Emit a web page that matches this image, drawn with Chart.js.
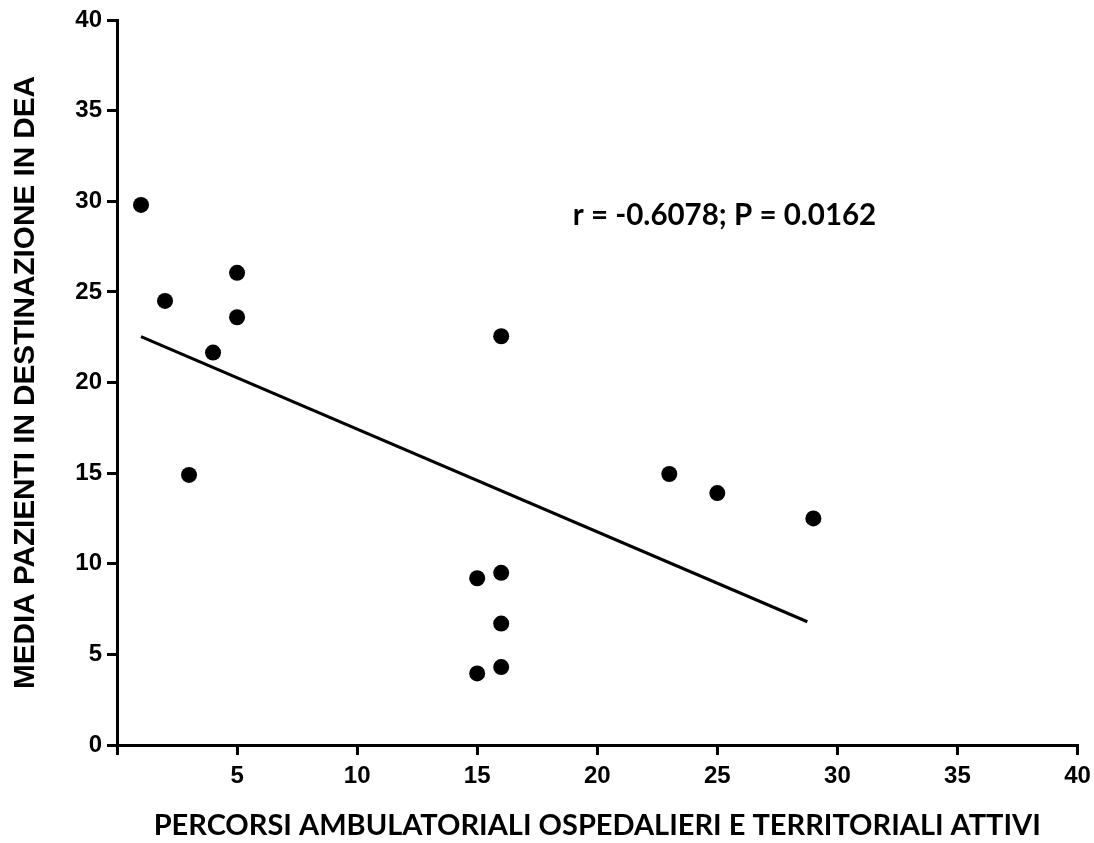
<!DOCTYPE html>
<html>
<head>
<meta charset="utf-8">
<script src="https://cdn.jsdelivr.net/npm/chart.js@4"></script>
<style>
  html, body { margin: 0; padding: 0; background: #fff; }
  #wrap { width: 1094px; height: 843px; position: relative; }
</style>
</head>
<body>
<div id="wrap"><canvas id="c" width="1094" height="843"></canvas></div>
<script>
// ---- data ----
const pointsX = [1, 2, 3, 4, 5, 5, 15, 15, 16, 16, 16, 16, 23, 25, 29];
const pointsY = [29.8, 24.5, 14.9, 21.65, 26.05, 23.6, 9.2, 3.95, 22.55, 9.5, 6.7, 4.3, 14.95, 13.9, 12.5];
const fitX = [1, 28.75];
const fitY = [22.53, 6.8];
const xTickValues = [0, 5, 10, 15, 20, 25, 30, 35, 40];
const xTickLabels = ['', '5', '10', '15', '20', '25', '30', '35', '40'];
const yTickLabels = ['0', '5', '10', '15', '20', '25', '30', '35', '40'];
const xTitle = 'PERCORSI AMBULATORIALI OSPEDALIERI E TERRITORIALI ATTIVI';
const yTitle = 'MEDIA PAZIENTI IN DESTINAZIONE IN DEA';
const annotationText = 'r = -0.6078; P = 0.0162';
const annotationPos = { x: 25.3, y: 29.2 };

const scatterData = pointsX.map((x, i) => ({ x: x, y: pointsY[i] }));
const fitData = fitX.map((x, i) => ({ x: x, y: fitY[i] }));

const annotationPlugin = {
  id: 'annot',
  afterDatasetsDraw(chart) {
    const { ctx, scales } = chart;
    const px = scales.x.getPixelForValue(annotationPos.x);
    const py = scales.y.getPixelForValue(annotationPos.y);
    ctx.save();
    ctx.font = 'bold 29.5px Lato, "Open Sans", sans-serif';
    ctx.fillStyle = '#000';
    ctx.textAlign = 'center';
    ctx.textBaseline = 'middle';
    ctx.fillText(annotationText, px, py);
    ctx.restore();
  }
};

const tickFont = { family: '"Liberation Sans", Arial, sans-serif', size: 24, weight: 'bold' };

new Chart(document.getElementById('c'), {
  type: 'scatter',
  data: {
    datasets: [
      {
        label: 'data',
        data: scatterData,
        pointRadius: 8,
        pointHoverRadius: 8,
        pointBorderWidth: 0,
        pointBackgroundColor: '#000',
        borderColor: '#000',
        backgroundColor: '#000'
      },
      {
        label: 'fit',
        type: 'line',
        data: fitData,
        borderColor: '#000',
        borderWidth: 3,
        pointRadius: 0,
        fill: false,
        tension: 0
      }
    ]
  },
  options: {
    responsive: false,
    animation: false,
    events: [],
    layout: { padding: { top: 20, right: 16.5, bottom: 0, left: 0 } },
    plugins: { legend: { display: false }, tooltip: { enabled: false } },
    scales: {
      x: {
        type: 'linear',
        min: 0, max: 40,
        afterBuildTicks(scale) { scale.ticks = xTickValues.map(v => ({ value: v })); },
        afterFit(scale) { scale.height = 98; scale.paddingRight = 0; scale.paddingLeft = 0; },
        ticks: {
          color: '#000',
          font: tickFont,
          padding: 7,
          maxRotation: 0,
          autoSkip: false,
          callback(value, index) { return xTickLabels[index]; }
        },
        grid: { display: true, drawOnChartArea: false, drawTicks: true, tickLength: 10, color: '#000', lineWidth: 3 },
        border: { display: true, color: '#000', width: 3 },
        title: {
          display: true,
          text: xTitle,
          color: '#000',
          font: { family: 'Lato, "Open Sans", sans-serif', size: 29, weight: 'bold' },
          padding: { top: 0, bottom: 0 }
        }
      },
      y: {
        type: 'linear',
        min: 0, max: 40,
        afterBuildTicks(scale) { scale.ticks = yTickLabels.map(v => ({ value: Number(v) })); },
        afterFit(scale) { scale.width = 117; scale.paddingTop = 0; scale.paddingBottom = 0; },
        ticks: {
          color: '#000',
          font: tickFont,
          padding: 5,
          autoSkip: false,
          callback(value, index) { return yTickLabels[index]; }
        },
        grid: { display: true, drawOnChartArea: false, drawTicks: true, tickLength: 10, color: '#000', lineWidth: 3 },
        border: { display: true, color: '#000', width: 3 },
        title: {
          display: true,
          text: yTitle,
          color: '#000',
          font: { family: '"Liberation Sans", Arial, sans-serif', size: 29.7, weight: 'bold' },
          padding: { top: 8, bottom: 0 }
        }
      }
    }
  },
  plugins: [annotationPlugin]
});
</script>
</body>
</html>
